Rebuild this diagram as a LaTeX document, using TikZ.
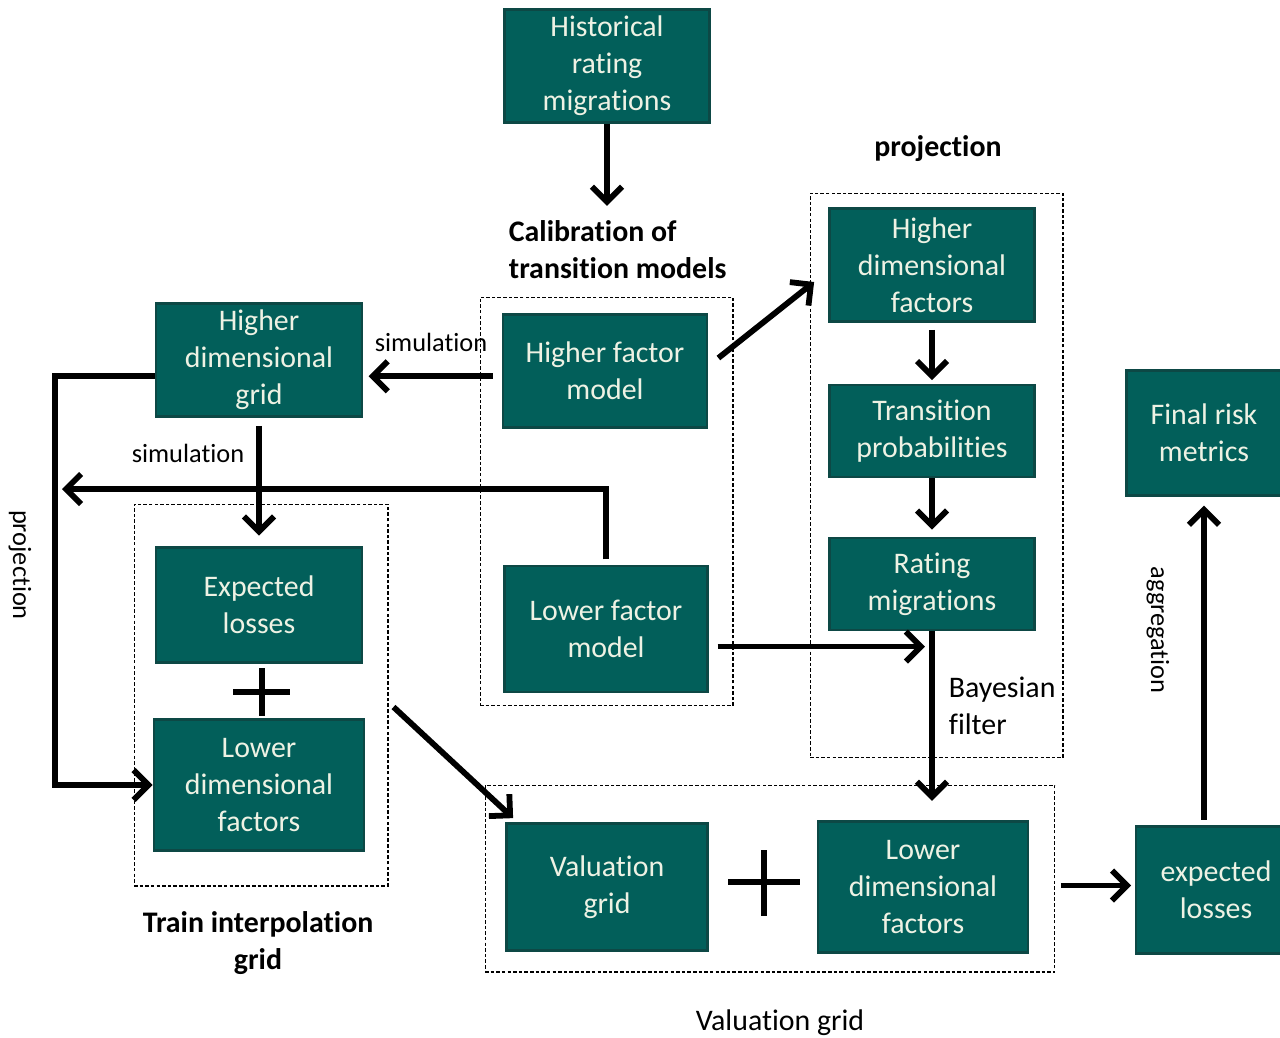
\documentclass[tikz,border=0pt]{standalone}
\usepackage{fontspec}
\setmainfont{Carlito}[Ligatures=NoCommon]
\usetikzlibrary{
  arrows.meta,
  calc,
}
\definecolor{boxteal}{HTML}{025F5A}
\definecolor{boxedge}{HTML}{0D4845}
\definecolor{boxtext}{HTML}{EEF2E4}

\begin{document}
\begin{tikzpicture}[
    x=0.02cm, y=-0.02cm,
    box/.style={rectangle, draw=boxedge, fill=boxteal, line width=1.6pt,
                text=boxtext, align=center, inner sep=0pt,
                minimum width=4.1cm, minimum height=2.26cm,
                font=\fontsize{17}{21}\selectfont},
    grp/.style={rectangle, draw, dash pattern=on 2pt off 1.2pt,
                line width=0.6pt, inner sep=0pt},
    lbl/.style={align=center, inner sep=0pt, font=\fontsize{17}{21}\selectfont},
    head/.style={lbl, font=\fontsize{17}{21}\selectfont\bfseries},
    note/.style={inner sep=0pt, font=\fontsize{15}{18}\selectfont},
    ->, >={Straight Barb[length=3mm, width=6mm]}, line width=3.3pt,
  ]
  \useasboundingbox (0,0) rectangle (1280,1037);

  % groups
  \node[grp, minimum width=5.06cm, minimum height=8.18cm] (calibbox) at (606.5,501.5) {};
  \node[grp, minimum width=5.08cm, minimum height=7.64cm] (trainbox) at (261,695) {};
  \node[grp, minimum width=5.06cm, minimum height=11.3cm] (projbox) at (936.5,475.5) {};
  \node[grp, minimum width=11.4cm, minimum height=3.74cm] (valbox) at (770,878.5) {};

  % boxes
  \node[box] (hist) at (607,66) {Historical\\rating\\migrations};
  \node[box, minimum width=4.08cm] (hfm) at (605,371) {Higher factor\\model};
  \node[box, minimum width=4.06cm, minimum height=2.52cm] (lfm) at (606,629) {Lower factor\\model};
  \node[box, minimum width=4.12cm] (hdgrid) at (259,360) {Higher\\dimensional\\grid};
  \node[box, minimum width=4.12cm, minimum height=2.3cm] (el) at (259,605) {Expected\\losses};
  \node[box, minimum width=4.2cm, minimum height=2.62cm] (ldfL) at (259,785) {Lower\\dimensional\\factors};
  \node[box] (hdf) at (932,265) {Higher\\dimensional\\factors};
  \node[box, minimum height=1.84cm] (tp) at (932,431) {Transition\\probabilities};
  \node[box, minimum height=1.84cm] (rm) at (932,584) {Rating\\migrations};
  \node[box, minimum width=4.02cm, minimum height=2.54cm] (vg) at (607,887) {Valuation\\grid};
  \node[box, minimum width=4.2cm, minimum height=2.62cm] (ldfR) at (923,887) {Lower\\dimensional\\factors};
  \node[box, minimum width=3.2cm, minimum height=2.54cm] (el2) at (1216,890) {expected\\losses};
  \node[box, minimum width=3.1cm, minimum height=2.5cm] (frm) at (1204,433) {Final risk\\metrics};

  % labels
  \node[head, align=left, anchor=west] (calib) at (506,250) {Calibration of\\transition models};
  \node[head] (projlbl) at (938,149) {projection};
  \node[head] (trainlbl) at (258,943) {Train interpolation\\grid};
  \node[lbl] (vallbl) at (780,1023) {Valuation grid};
  \node[lbl, align=left, anchor=west] (bayes) at (946,706) {Bayesian\\filter};
  \node[note] (sim1) at (431,342) {simulation};
  \node[note] (sim2) at (188,453) {simulation};
  \node[note, rotate=-90] (projrot) at (20,565) {projection};
  \node[note, rotate=-90] (aggr) at (1158,630) {aggregation};

  % plus signs
  \draw[-] (233,692) -- (290,692) (262,668) -- (262,716);
  \draw[-] (728,882) -- (800,882) (764,850) -- (764,916);

  % flows
  \coordinate (projL) at (55,376);
  \coordinate (projTip) at (62,489);
  \draw[shorten >=7pt] (hist.south) -- (hist.south |- calib.north);
  \draw[shorten <=5pt, shorten >=3pt] ([yshift=-3pt]hfm.west) -- ([yshift=-3pt]hfm.west -| hdgrid.east);
  \draw (hdgrid.west |- projL) -- (projL) |- (ldfL.west);
  \draw[shorten <=4.5pt, shorten >=6pt] (hdgrid.south) -- (el.north);
  \draw[shorten <=3pt] (lfm.north) |- (projTip);
  \draw ($(trainbox.east)+(5,12)$) -- ($(vg.north west)+(8,-4)$);
  \draw ($(hfm.east)+(10,-13)$) -- ($(hdf.west)+(-14,17)$);
  \draw[shorten <=4pt, shorten >=2pt] (hdf.south) -- (tp.north);
  \draw[shorten >=4pt] (tp.south) -- (rm.north);
  \draw[shorten <=5pt, shorten >=4pt] ([yshift=-10pt]lfm.east) -- ([yshift=-10pt]lfm.east -| rm.south);
  \draw[shorten >=11pt] (rm.south) -- (rm.south |- ldfR.north);
  \draw[shorten <=3pt, shorten >=2pt] ([yshift=-4pt]valbox.east) -- ([yshift=-4pt]valbox.east -| el2.west);
  \draw[shorten <=3pt, shorten >=5pt] (el2.north -| frm.south) -- (frm.south);
\end{tikzpicture}
\end{document}
